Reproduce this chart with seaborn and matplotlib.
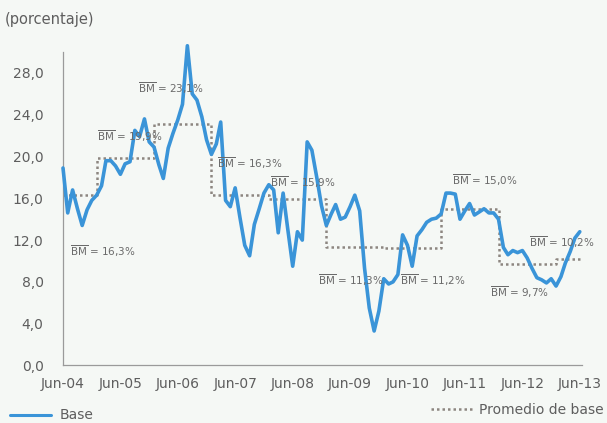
import numpy as np
import pandas as pd
import matplotlib
matplotlib.use("Agg")
import matplotlib.pyplot as plt
import matplotlib.dates as mdates
from matplotlib.lines import Line2D
import seaborn as sns

# ---- data ----
start_month = "2004-06-01"
base_values = [
    18.9, 14.6, 16.8, 15.0, 13.4, 14.9, 15.8, 16.3, 17.2, 19.6, 19.6, 19.1,   # Jun-04..May-05
    18.3, 19.3, 19.5, 22.5, 21.9, 23.6, 21.4, 20.9, 19.2, 17.9, 20.8, 22.2,   # Jun-05..May-06
    23.5, 25.0, 30.6, 26.0, 25.4, 23.8, 21.6, 20.2, 21.2, 23.3, 15.8, 15.2,   # Jun-06..May-07
    17.0, 14.2, 11.5, 10.5, 13.5, 15.0, 16.5, 17.3, 16.8, 12.7, 16.5, 13.0,   # Jun-07..May-08
    9.5, 12.8, 12.0, 21.4, 20.6, 18.0, 15.3, 13.4, 14.5, 15.4, 14.0, 14.2,    # Jun-08..May-09
    15.2, 16.3, 14.8, 9.3, 5.5, 3.3, 5.2, 8.3, 7.8, 8.0, 8.7, 12.5,           # Jun-09..May-10
    11.5, 9.5, 12.4, 13.0, 13.7, 14.0, 14.1, 14.5, 16.5, 16.5, 16.4, 14.0,    # Jun-10..May-11
    14.8, 15.5, 14.4, 14.7, 15.0, 14.6, 14.6, 14.0, 11.3, 10.6, 11.0, 10.8,   # Jun-11..May-12
    11.0, 10.3, 9.3, 8.4, 8.2, 7.9, 8.3, 7.6, 8.5, 9.8, 10.9, 12.2,           # Jun-12..May-13
    12.8,                                                                     # Jun-13
]
avg_period_starts = ["2004-06-01", "2005-01-01", "2006-01-01", "2007-01-01", "2008-01-01",
                     "2009-01-01", "2010-01-01", "2011-01-01", "2012-01-01", "2013-01-01"]
avg_period_end = "2013-06-01"
avg_values = [16.3, 19.9, 23.1, 16.3, 15.9, 11.3, 11.2, 15.0, 9.7, 10.2]
avg_labels = ["16,3%", "19,9%", "23,1%", "16,3%", "15,9%", "11,3%", "11,2%", "15,0%", "9,7%", "10,2%"]
# label anchor (date, value) for each average annotation
label_dates = ["2004-07-15", "2005-01-01", "2005-09-20", "2007-02-05", "2008-01-10",
               "2008-11-10", "2010-04-15", "2011-03-10", "2011-11-10", "2012-07-10"]
label_vals = [10.9, 21.9, 26.5, 19.4, 17.5, 8.2, 8.2, 17.7, 7.0, 11.8]
tick_labels = ["Jun-04", "Jun-05", "Jun-06", "Jun-07", "Jun-08",
               "Jun-09", "Jun-10", "Jun-11", "Jun-12", "Jun-13"]
y_ticks = [0, 4, 8, 12, 16, 20, 24, 28]

dates = pd.date_range(start_month, periods=len(base_values), freq="MS")
df = pd.DataFrame({"fecha": dates, "base": base_values})

step_x = pd.to_datetime(avg_period_starts + [avg_period_end])
step_y = avg_values + [avg_values[-1]]
df_avg = pd.DataFrame({"fecha": step_x, "prom": step_y})

# ---- style ----
sns.set_style("white")
plt.rcParams["font.family"] = ["DejaVu Sans"]
bg = "#f5f8f5"
txt = "#5e5e5e"
blue = "#3a94d8"
dotc = "#8d8680"

fig = plt.figure(figsize=(6.07, 4.23), dpi=100, facecolor=bg)
ax = fig.add_axes([0.1038, 0.136, 0.855, 0.741])
ax.set_facecolor(bg)

sns.lineplot(data=df, x="fecha", y="base", ax=ax, color=blue, linewidth=2.6, zorder=3)
for ln in ax.get_lines():
    ln.set_clip_on(False)
ax.plot(df_avg["fecha"], df_avg["prom"], drawstyle="steps-post", color=dotc,
        linestyle=(0, (1, 1.2)), linewidth=1.8, zorder=2)

for d, v, lab in zip(label_dates, label_vals, avg_labels):
    ax.text(pd.Timestamp(d), v, r"$\overline{\mathrm{BM}}$ = " + lab, fontsize=7.5,
            color="#6a6a6a", va="center", ha="left", zorder=4)

ax.set_ylim(0, 30)
ax.set_xlim(pd.Timestamp("2004-06-01"), pd.Timestamp("2013-06-15"))
ax.set_yticks(y_ticks)
ax.set_yticklabels([f"{v:.1f}".replace(".", ",") for v in y_ticks])
tick_dates = pd.date_range("2004-06-01", periods=len(tick_labels), freq="12MS")
ax.set_xticks(tick_dates)
ax.set_xticklabels(tick_labels)
ax.set_xlabel("")
ax.set_ylabel("")
ax.tick_params(axis="both", direction="in", length=3, width=0.8, colors="#9a9a9a",
               labelcolor=txt, labelsize=10)
ax.tick_params(axis="x", pad=8)
ax.tick_params(axis="y", pad=14)
for s in ["top", "right"]:
    ax.spines[s].set_visible(False)
for s in ["left", "bottom"]:
    ax.spines[s].set_color("#9a9a9a")
    ax.spines[s].set_linewidth(0.9)

fig.text(0.008, 0.953, "(porcentaje)", fontsize=10.5, color=txt, va="center", ha="left")

h1 = Line2D([], [], color=blue, linewidth=2.2)
h2 = Line2D([], [], color=dotc, linestyle=(0, (1, 1.2)), linewidth=1.8)
leg1 = fig.legend([h1], ["Base"], loc="center left", bbox_to_anchor=(0.016, 0.018),
                  frameon=False, fontsize=10, labelcolor=txt, handlelength=3.0,
                  handletextpad=0.6, borderaxespad=0, borderpad=0)
leg2 = fig.legend([h2], ["Promedio de base"], loc="center right", bbox_to_anchor=(0.995, 0.03),
                  frameon=False, fontsize=10, labelcolor=txt, handlelength=3.2,
                  handletextpad=0.3, borderaxespad=0, borderpad=0)

fig.savefig("out.png", dpi=100, facecolor=bg)
